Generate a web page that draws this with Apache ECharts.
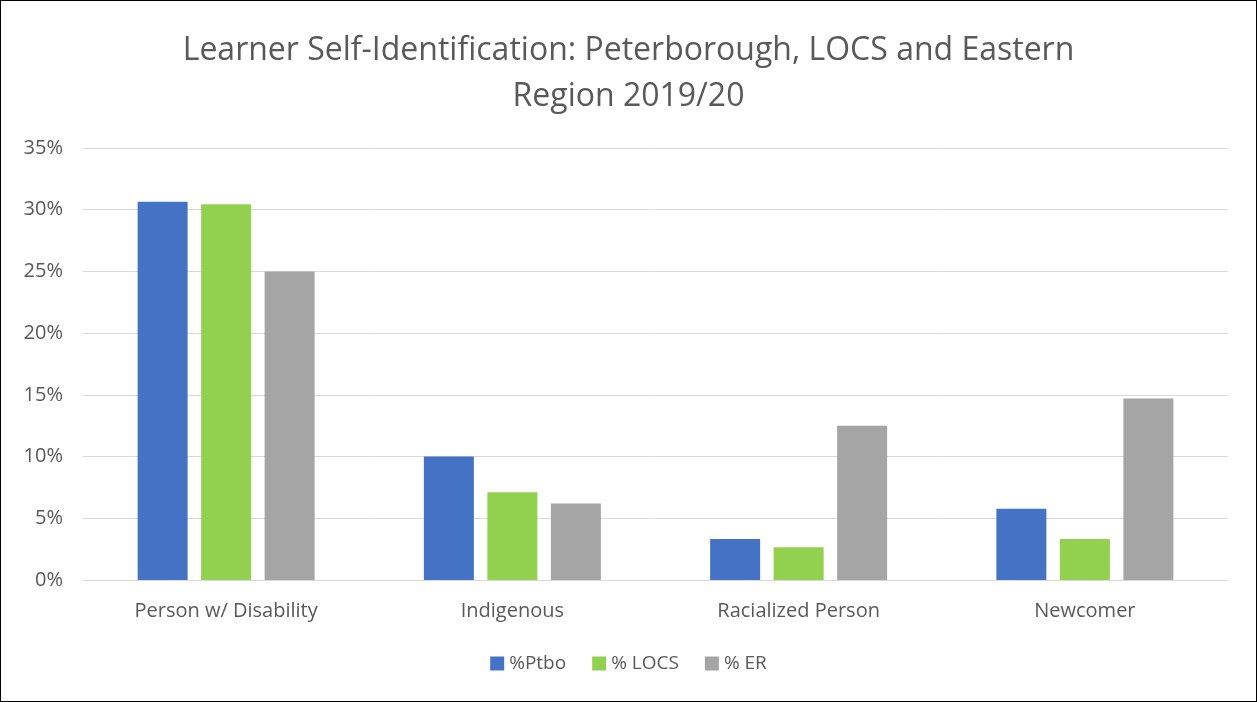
<!DOCTYPE html>
<html>
<head>
<meta charset="utf-8">
<script src="https://cdn.jsdelivr.net/npm/echarts@6/dist/echarts.min.js"></script>
<style>
  html, body { margin: 0; padding: 0; background: #fff; }
  #chart { width: 1255px; height: 700px; border: 1px solid #000; }
</style>
</head>
<body>
<div id="chart"></div>
<script>
// categories and values (percent)
var categories = ['Person w/ Disability', 'Indigenous', 'Racialized Person', 'Newcomer']
var ptbo = [30.65, 10.0, 3.33, 5.77]
var locs = [30.45, 7.1, 2.66, 3.33]
var er = [25.0, 6.2, 12.5, 14.7]

var chart = echarts.init(document.getElementById('chart'))

function makeSeries(name, data, color) {
  return {
    name: name,
    type: 'bar',
    data: data,
    barWidth: 50,
    barGap: '27%',
    itemStyle: { color: color }
  }
}

var option = {
  textStyle: { fontFamily: 'Open Sans' },
  title: {
    text: 'Learner Self-Identification: Peterborough, LOCS and Eastern\nRegion 2019/20',
    left: 'center',
    top: 22,
    textStyle: {
      fontFamily: 'Open Sans',
      fontSize: 32,
      fontWeight: 'normal',
      color: '#595959',
      lineHeight: 46
    }
  },
  legend: {
    bottom: 23,
    left: 'center',
    itemWidth: 14,
    itemHeight: 14,
    itemGap: 26,
    icon: 'rect',
    textStyle: { fontSize: 19, color: '#595959' },
    data: ['%Ptbo', '% LOCS', '% ER']
  },
  grid: {
    left: 82,
    right: 28,
    top: 147,
    bottom: 121
  },
  xAxis: {
    type: 'category',
    data: categories,
    axisTick: { show: false },
    axisLine: { lineStyle: { color: '#d9d9d9', width: 1 } },
    axisLabel: { fontSize: 20, color: '#595959', margin: 21 }
  },
  yAxis: {
    type: 'value',
    min: 0,
    max: 35,
    interval: 5,
    axisLine: { show: false },
    axisTick: { show: false },
    splitLine: { lineStyle: { color: '#d9d9d9', width: 1 } },
    axisLabel: {
      fontSize: 20,
      color: '#595959',
      margin: 20,
      formatter: function (v) { return v + '%' }
    }
  },
  series: [
    makeSeries('%Ptbo', ptbo, '#4472C4'),
    makeSeries('% LOCS', locs, '#92D050'),
    makeSeries('% ER', er, '#A5A5A5')
  ]
}

chart.setOption(option)
</script>
</body>
</html>
